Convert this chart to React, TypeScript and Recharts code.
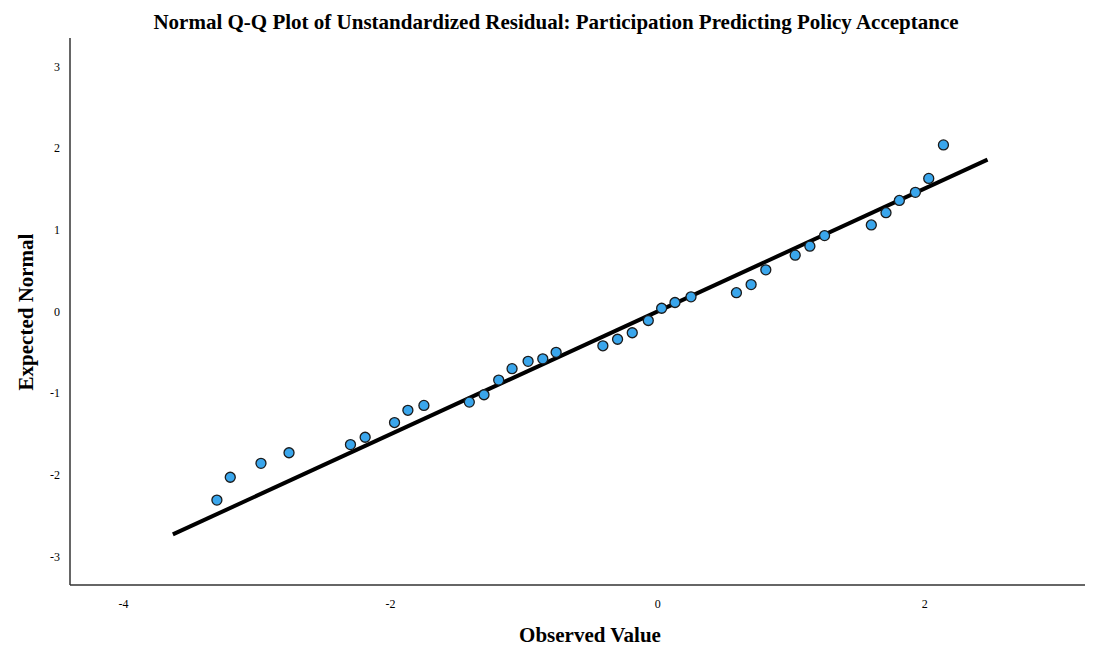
import React from 'react';
import { ScatterChart, Scatter, XAxis, YAxis, ReferenceLine } from 'recharts';

// observed residual quantiles vs expected normal
const observed = [
  -3.3, -3.2, -2.97, -2.76, -2.3, -2.19, -1.97, -1.87, -1.75, -1.41, -1.3, -1.19,
  -1.09, -0.97, -0.86, -0.76, -0.41, -0.3, -0.19, -0.07, 0.03, 0.13, 0.25, 0.59,
  0.7, 0.81, 1.03, 1.14, 1.25, 1.6, 1.71, 1.81, 1.93, 2.03, 2.14,
];
const expected = [
  -2.31, -2.03, -1.86, -1.73, -1.63, -1.54, -1.36, -1.21, -1.15, -1.11, -1.02, -0.84,
  -0.7, -0.61, -0.58, -0.5, -0.42, -0.34, -0.26, -0.11, 0.04, 0.11, 0.18, 0.23,
  0.33, 0.51, 0.69, 0.8, 0.93, 1.06, 1.21, 1.36, 1.46, 1.63, 2.04,
];

// fitted reference line end points
const lineX = [-3.63, 2.47];
const lineY = [-2.73, 1.86];

const xTicks = [-4, -2, 0, 2];
const yTicks = [-3, -2, -1, 0, 1, 2, 3];

const points = observed.map((x, i) => ({ x, y: expected[i] }));

const FONT = '"Liberation Serif", "Times New Roman", serif';

const Dot = (props: any) => {
  const { cx, cy } = props;
  return <circle cx={cx} cy={cy} r={5} fill="#3aa6ec" stroke="#1b1b1b" strokeWidth={1.3} />;
};

export default function App() {
  return (
    <div style={{ position: 'absolute', left: 0, top: 0, width: 1100, height: 648, background: '#fff' }}>
      <ScatterChart width={1100} height={648} margin={{ top: 38, right: 15, bottom: 43, left: 10 }}>
        <text x={556} y={29} textAnchor="middle" fontFamily={FONT} fontWeight="bold" fontSize={21} fill="#000">
          Normal Q-Q Plot of Unstandardized Residual: Participation Predicting Policy Acceptance
        </text>
        <text x={590} y={642} textAnchor="middle" fontFamily={FONT} fontWeight="bold" fontSize={21} fill="#000">
          Observed Value
        </text>
        <text
          x={26}
          y={312}
          textAnchor="middle"
          fontFamily={FONT}
          fontWeight="bold"
          fontSize={21}
          fill="#000"
          transform="rotate(-90 26 312)"
          dominantBaseline="central"
        >
          Expected Normal
        </text>
        <XAxis
          type="number"
          dataKey="x"
          domain={[-4.4, 3.2]}
          ticks={xTicks}
          allowDataOverflow
          tickLine={false}
          tickSize={12}
          axisLine={{ stroke: '#333', strokeWidth: 1.5 }}
          tick={{ fontFamily: FONT, fontSize: 12, fill: '#000' }}
          height={20}
        />
        <YAxis
          type="number"
          dataKey="y"
          domain={[-3.35, 3.35]}
          ticks={yTicks}
          allowDataOverflow
          tickLine={false}
          tickSize={8}
          axisLine={{ stroke: '#333', strokeWidth: 1.5 }}
          tick={{ fontFamily: FONT, fontSize: 12, fill: '#000' }}
          width={60}
        />
        <ReferenceLine
          segment={[
            { x: lineX[0], y: lineY[0] },
            { x: lineX[1], y: lineY[1] },
          ]}
          stroke="#000"
          strokeWidth={4}
          ifOverflow="extendDomain"
        />
        <Scatter data={points} shape={<Dot />} isAnimationActive={false} />
      </ScatterChart>
    </div>
  );
}
